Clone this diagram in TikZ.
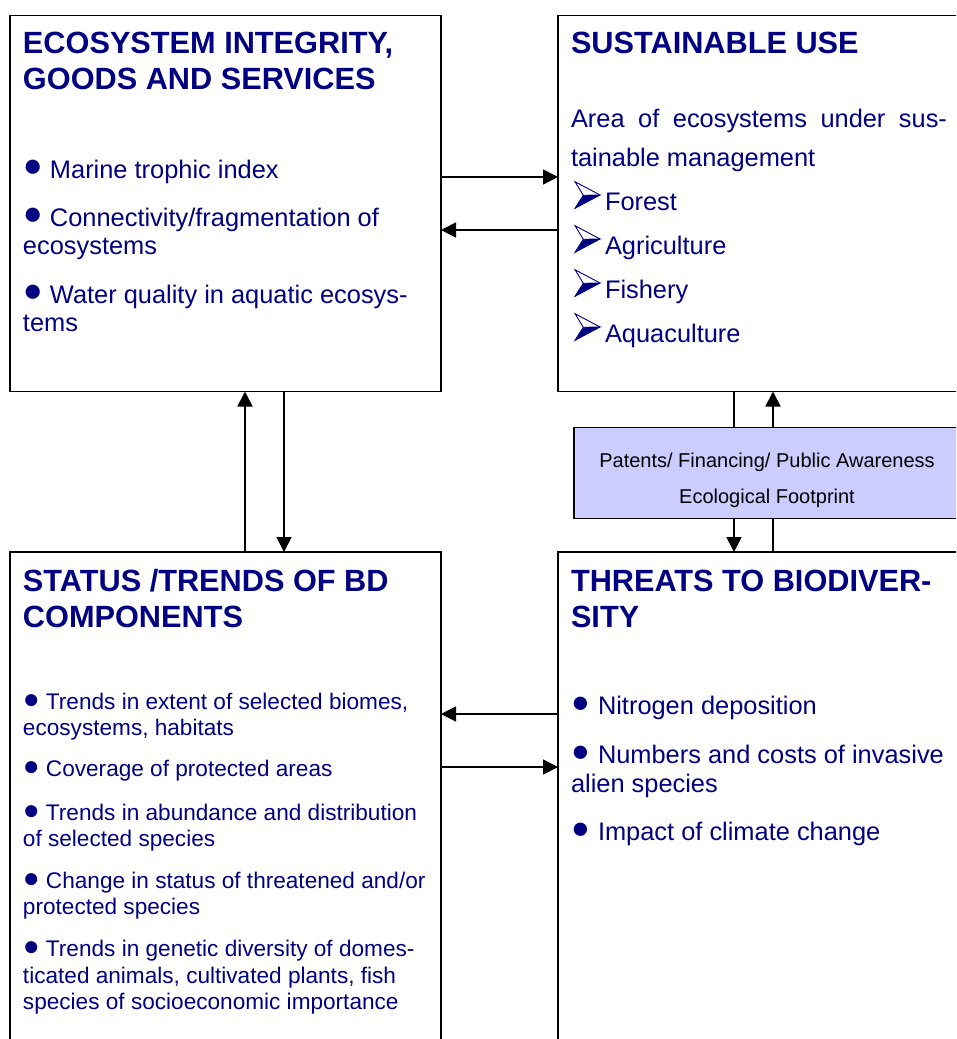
\documentclass[tikz,border=0pt]{standalone}
\usepackage{fontspec}
\setmainfont{Liberation Sans}
\usetikzlibrary{arrows.meta}
\definecolor{navyblue}{RGB}{0,0,128}
\definecolor{lavbox}{RGB}{204,204,255}
% bullet: box width, glyph size, raise
\newcommand{\bul}[3]{\makebox[#1][l]{\raisebox{#3}{\fontsize{#2}{#2}\selectfont ●}}}
\newcommand{\bulA}{\bul{27pt}{33pt}{1.6pt}}
\newcommand{\bulB}{\bul{23pt}{28pt}{0.6pt}}
\newcommand{\bulC}{\bul{27pt}{31pt}{1.4pt}}
\begin{document}
\begin{tikzpicture}[x=1pt,y=-1pt,
  box/.style={draw=black, line width=1.8pt, rectangle, anchor=north west, inner sep=0pt, outer sep=0pt},
  conn/.style={line width=1.7pt, draw=black},
  arr/.style={conn, -{Triangle[length=15pt,width=15pt]}},
  txt/.style={anchor=base west, inner sep=0pt, outer sep=0pt, text=navyblue},
  ttl/.style={txt, font=\fontsize{30.7pt}{36pt}\selectfont\bfseries},
  bodyA/.style={txt, font=\fontsize{25.4pt}{28pt}\selectfont},
  bodyB/.style={txt, font=\fontsize{22.6pt}{26pt}\selectfont},
  small/.style={anchor=base, inner sep=0pt, outer sep=0pt, text=black, font=\fontsize{20pt}{24pt}\selectfont},
  arrowbul/.pic={
    \filldraw[navyblue, line width=0.9pt, line join=miter] (0,-1.7) -- (8.3,-14.7) -- (25,-15) -- cycle;
    \draw[navyblue, line width=0.9pt, line join=miter] (8.3,-14.7) -- (0,-28.3) -- (25,-15);
  }
]
\useasboundingbox (0,0) rectangle (956,1039);
\fill[white] (0,0) rectangle (956,1039);
\clip (0,0) rectangle (956,1039);

% boxes
\node[box, minimum width=431pt, minimum height=376pt] (eco) at (10,15.5) {};
\node[box, minimum width=420pt, minimum height=376pt] (sus) at (558,15.5) {};
\node[box, minimum width=431pt, minimum height=520pt] (sta) at (10,552) {};
\node[box, minimum width=420pt, minimum height=520pt] (thr) at (558,552) {};
\node[box, fill=lavbox, minimum width=386pt, minimum height=91pt] (fin) at (574,427.5) {};

% ecosystem integrity
\node[ttl] (e1) at (23,53.5) {ECOSYSTEM INTEGRITY,};
\node[ttl] (e2) at (23,89.5) {GOODS AND SERVICES};
\node[bodyA] (e3) at (23,178) {\bulA Marine trophic index};
\node[bodyA] (e4) at (23,226) {\bulA Connectivity/fragmentation of};
\node[bodyA] (e5) at (23,254) {ecosystems};
\node[bodyA] (e6) at (23,303.5) {\bulA Water quality in aquatic ecosys-};
\node[bodyA] (e7) at (23,331.5) {tems};

% sustainable use
\node[ttl] (s1) at (571,53.5) {SUSTAINABLE USE};
\node[bodyA] (s2) at (571,127) {\makebox[376pt][s]{Area of ecosystems under sus-}};
\node[bodyA] (s3) at (571,166) {tainable management};
\pic at (575,210) {arrowbul};
\pic at (575,254) {arrowbul};
\pic at (575,298) {arrowbul};
\pic at (575,342) {arrowbul};
\node[bodyA] (s4) at (605,210) {Forest};
\node[bodyA] (s5) at (605,254) {Agriculture};
\node[bodyA] (s6) at (605,298) {Fishery};
\node[bodyA] (s7) at (605,342) {Aquaculture};

% patents box text
\node[small] (f1) at (767,467) {Patents/ Financing/ Public Awareness};
\node[small] (f2) at (767,503) {Ecological Footprint};

% status / trends
\node[ttl] (b1) at (23,591) {STATUS /TRENDS OF BD};
\node[ttl] (b2) at (23,627) {COMPONENTS};
\node[bodyB] (b3) at (23,709) {\bulB Trends in extent of selected biomes,};
\node[bodyB] (b4) at (23,735.5) {ecosystems, habitats};
\node[bodyB] (b5) at (23,776) {\bulB Coverage of protected areas};
\node[bodyB] (b6) at (23,820) {\bulB Trends in abundance and distribution};
\node[bodyB] (b7) at (23,846) {of selected species};
\node[bodyB] (b8) at (23,888) {\bulB Change in status of threatened and/or};
\node[bodyB] (b9) at (23,914) {protected species};
\node[bodyB] (b10) at (23,956) {\bulB Trends in genetic diversity of domes-};
\node[bodyB] (b11) at (23,983) {ticated animals, cultivated plants, fish};
\node[bodyB] (b12) at (23,1009) {species of socioeconomic importance};

% threats
\node[ttl] (t1) at (571,591) {THREATS TO BIODIVER-};
\node[ttl] (t2) at (571,627) {SITY};
\node[bodyA] (t3) at (571,714) {\bulC Nitrogen deposition};
\node[bodyA] (t4) at (571,763) {\bulC Numbers and costs of invasive};
\node[bodyA] (t5) at (571,792) {alien species};
\node[bodyA] (t6) at (571,840) {\bulC Impact of climate change};

% helper coordinates
\coordinate (ya) at (0,177);
\coordinate (yb) at (0,230);
\coordinate (yc) at (0,714);
\coordinate (yd) at (0,767);
\coordinate (xa) at (245,0);
\coordinate (xb) at (284,0);
\coordinate (xc) at (734,0);
\coordinate (xd) at (773,0);

% connectors
\draw[arr] (eco.east |- ya) -- (sus.west |- ya);
\draw[arr] (sus.west |- yb) -- (eco.east |- yb);
\draw[arr] (sta.north -| xa) -- (eco.south -| xa);
\draw[arr] (eco.south -| xb) -- (sta.north -| xb);
\draw[arr] (thr.west |- yc) -- (sta.east |- yc);
\draw[arr] (sta.east |- yd) -- (thr.west |- yd);
\draw[conn] (sus.south -| xc) -- (fin.north -| xc);
\draw[arr] (fin.south -| xc) -- (thr.north -| xc);
\draw[conn] (thr.north -| xd) -- (fin.south -| xd);
\draw[arr] (fin.north -| xd) -- (sus.south -| xd);
\end{tikzpicture}
\end{document}
